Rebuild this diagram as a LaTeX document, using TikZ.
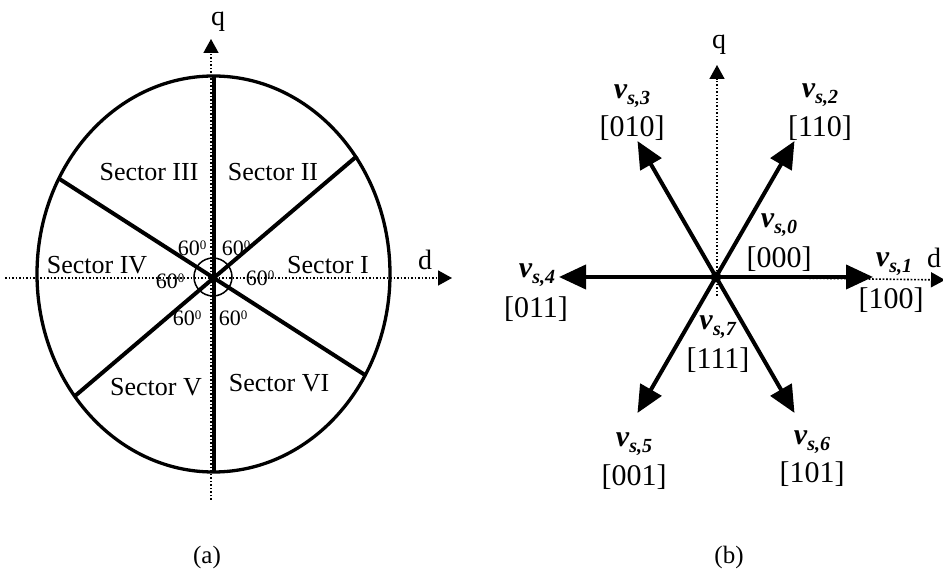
\documentclass[tikz,border=0pt]{standalone}
\usepackage{fontspec}
\setmainfont{Liberation Serif}
\usetikzlibrary{arrows.meta}
\newcommand{\vsub}[1]{\textbf{\textit{v}}\raisebox{-6pt}{\fontsize{20}{20}\selectfont\textbf{\textit{s,#1}}}}
\newcommand{\sixty}{60\raisebox{6pt}{\fontsize{13}{13}\selectfont 0}}

\begin{document}
\begin{tikzpicture}[x=1pt,y=1pt,
  sector/.style={font=\fontsize{26}{26}\selectfont,inner sep=0pt},
  ang/.style={font=\fontsize{22}{22}\selectfont,inner sep=0pt},
  axlbl/.style={font=\fontsize{28}{28}\selectfont,inner sep=0pt},
  vlbl/.style={font=\fontsize{30}{30}\selectfont,inner sep=0pt},
  capt/.style={font=\fontsize{25}{25}\selectfont,inner sep=0pt},
  axis/.style={line width=1.6pt,dash pattern=on 1.6pt off 1.9pt,
    -{Triangle[length=14pt,width=15pt]}},
  bold/.style={line width=4pt},
  vec/.style={line width=4pt,-{Triangle[length=27pt,width=24pt]}}]
\useasboundingbox (0,0) rectangle (943,570);

% (a)
\coordinate (O) at (213,293);
\coordinate (top) at (214,494);
\coordinate (bot) at (214,98);
\coordinate (ur) at (357,414);
\coordinate (ul) at (58,392);
\coordinate (ll) at (75,174);
\coordinate (lr) at (365,195);
\coordinate (qa0) at (211,70);
\coordinate (qa) at (211,531);
\coordinate (da0) at (5,292);
\coordinate (da) at (452,292);
\draw[axis] (qa0) -- (qa);
\draw[axis] (da0) -- (da);
\draw[line width=3.3pt] (213.5,296) ellipse [x radius=176.5pt,y radius=198pt];
\draw[bold] (top) -- (bot);
\draw[bold] (ur) -- (ll);
\draw[bold] (ul) -- (lr);
\draw[line width=1.5pt] (O) circle [radius=19pt];
\node[axlbl] (qlbla) at (218,548) {q};
\node[axlbl] (dlbla) at (425,310) {d};
\node[sector] (s3) at (149,398) {Sector III};
\node[sector] (s2) at (273,398) {Sector II};
\node[sector] (s4) at (97,305) {Sector IV};
\node[sector] (s1) at (328,305) {Sector I};
\node[sector] (s5) at (156,183) {Sector V};
\node[sector] (s6) at (279,187) {Sector VI};
\node[ang] (a1) at (192,322) {\sixty};
\node[ang] (a2) at (236,322) {\sixty};
\node[ang] (a3) at (170,289) {\sixty};
\node[ang] (a4) at (260,292) {\sixty};
\node[ang] (a5) at (187,252) {\sixty};
\node[ang] (a6) at (233,252) {\sixty};
\node[capt] (capa) at (207,13) {(a)};

% (b)
\coordinate (qb0) at (717,274);
\coordinate (qb) at (717,505);
\coordinate (db) at (945,290);
\node[circle,fill,inner sep=0pt,minimum size=11pt] (C) at (716,293) {};
\draw[axis] (qb0) -- (qb);
\draw[axis] (C) -- (db);
\foreach \i/\a in {1/0,2/60,3/120,4/180,5/240,6/300}
  \draw[vec] (C.center) -- ++(\a:157) coordinate (t\i);
\node[axlbl] (qlblb) at (719,525) {q};
\node[axlbl] (dlblb) at (934,312) {d};
\node[vlbl] (v0) at (779,345) {\vsub{0}};
\node[vlbl] (c0) at (779,311) {[000]};
\node[vlbl] (v1) at (894,306) {\vsub{1}};
\node[vlbl] (c1) at (891,270) {[100]};
\node[vlbl] (v2) at (820,475) {\vsub{2}};
\node[vlbl] (c2) at (820,442) {[110]};
\node[vlbl] (v3) at (632,474) {\vsub{3}};
\node[vlbl] (c3) at (632,442) {[010]};
\node[vlbl] (v4) at (537,295) {\vsub{4}};
\node[vlbl] (c4) at (536,261) {[011]};
\node[vlbl] (v5) at (634,126) {\vsub{5}};
\node[vlbl] (c5) at (634,93) {[001]};
\node[vlbl] (v6) at (812,128) {\vsub{6}};
\node[vlbl] (c6) at (812,96) {[101]};
\node[vlbl] (v7) at (718,243) {\vsub{7}};
\node[vlbl] (c7) at (718,210) {[111]};
\node[capt] (capb) at (729,13) {(b)};
\end{tikzpicture}
\end{document}
